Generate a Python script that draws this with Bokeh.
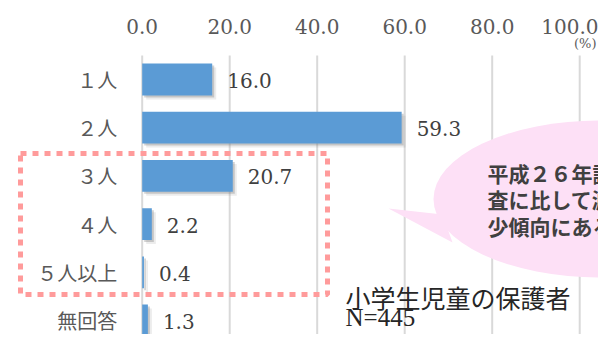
from bokeh.plotting import figure
from bokeh.models import Range1d, FixedTicker, ColumnDataSource
from bokeh.core.properties import value
from bokeh.embed import file_html
from bokeh.resources import INLINE

# ---- data ----
categories = ["１人", "２人", "３人", "４人", "５人以上", "無回答"]
values = [16.0, 59.3, 20.7, 2.2, 0.4, 1.3]
value_labels = ["16.0", "59.3", "20.7", "2.2", "0.4", "1.3"]
ticks = [0, 20, 40, 60, 80, 100]
tick_labels = ["0.0", "20.0", "40.0", "60.0", "80.0", "100.0"]
bubble_lines = ["平成２６年調", "査に比して減", "少傾向にある"]
note_title = "小学生児童の保護者"
note_n = "N=445"
unit_label = "(%)"

# ---- layout helpers (picture px -> data) ----
W, H = 598, 334
FRAME_TOP = 36
PX_X = 4.375            # px per percent
X0 = 141.7              # px of value 0
PX_Y = 48.2             # px per category row
ROW0 = 79               # px of first row center

x_start = -X0 / PX_X
x_end = (W - X0) / PX_X
y_top = -(ROW0 - FRAME_TOP) / PX_Y
y_bottom = y_top + (H - FRAME_TOP) / PX_Y


def dx(px):
    return (px - X0) / PX_X


def dy(py):
    return y_top + (py - FRAME_TOP) / PX_Y


ypos = list(range(len(categories)))

p = figure(width=W, height=H, output_backend="svg", toolbar_location=None,
           x_range=Range1d(x_start, x_end), y_range=Range1d(y_bottom, y_top),
           x_axis_location="above", y_axis_location=None,
           min_border_top=FRAME_TOP, min_border_bottom=0,
           min_border_left=0, min_border_right=0)
p.outline_line_color = None
p.background_fill_color = "white"
p.border_fill_color = "white"
p.xgrid.grid_line_color = None
p.ygrid.grid_line_color = None

ax = p.xaxis[0]
ax.ticker = FixedTicker(ticks=ticks)
ax.major_label_overrides = {t: l for t, l in zip(ticks, tick_labels)}
ax.axis_line_color = None
ax.major_tick_line_color = None
ax.minor_tick_line_color = None
ax.major_tick_out = 0
ax.major_tick_in = 0
ax.major_label_standoff = 3
ax.major_label_text_font = "DejaVu Serif"
ax.major_label_text_font_size = "20px"
ax.major_label_text_color = "#595959"

# gridlines
p.segment(x0=ticks, x1=ticks, y0=[-0.5] * len(ticks), y1=[y_bottom] * len(ticks),
          line_color="#D9D9D9", line_width=2)

# speech bubble
p.ellipse(x=[dx(600)], y=[dy(198.5)], width=334, height=157,
          width_units="screen", height_units="screen",
          fill_color="#FDE0F6", line_color=None)
p.patch(x=[dx(388), dx(442), dx(452)], y=[dy(208), dy(214), dy(242)],
        fill_color="#FDE0F6", line_color=None)
p.text(x=[dx(487)] * 3, y=[dy(172), dy(198.5), dy(225)], text=bubble_lines,
       text_font=value("Noto Sans CJK JP"), text_font_style="bold",
       text_font_size="21px", text_color="#404040",
       text_align="left", text_baseline="middle")

# bar shadows + bars
sx1, sy1 = 2 / PX_X, 2 / PX_Y
sx2, sy2 = 4 / PX_X, 4 / PX_Y
p.hbar(y=[y + sy2 for y in ypos], left=sx2, right=[v + sx2 for v in values],
       height=0.66, fill_color="#7F7F7F", fill_alpha=0.15, line_color=None)
p.hbar(y=[y + sy1 for y in ypos], left=sx1, right=[v + sx1 for v in values],
       height=0.66, fill_color="#7F7F7F", fill_alpha=0.35, line_color=None)
src = ColumnDataSource(dict(y=ypos, v=values, lab=value_labels, cat=categories,
                            zero=[0] * len(values)))
p.hbar(y="y", left=0, right="v", height=0.66, source=src,
       fill_color="#5B9BD5", line_color=None)

# value labels
p.text(x="v", y="y", text="lab", source=src, x_offset=15, y_offset=1,
       text_font=value("DejaVu Serif"), text_font_size="20px",
       text_color="#404040", text_align="left", text_baseline="middle")

# category labels
p.text(x="zero", y="y", text="cat", source=src, x_offset=-25,
       text_font=value("Noto Sans CJK JP"), text_font_size="20px",
       text_color="#595959", text_align="right", text_baseline="middle")

# dotted highlight box
p.quad(left=[dx(20)], right=[dx(327)], top=[dy(153)], bottom=[dy(294)],
       fill_color=None, line_color="#FF9B9B", line_width=5, line_dash="6 6")

# unit label
p.text(x=[dx(596)], y=[dy(43)], text=[unit_label],
       text_font=value("DejaVu Serif"), text_font_size="13px",
       text_color="#595959", text_align="right", text_baseline="middle")

# sample note (kept inside the drawable height)
p.text(x=[dx(345)], y=[dy(296)], text=[note_title],
       text_font=value("Noto Sans CJK JP"), text_font_size="25px",
       text_color="#262626", text_align="left", text_baseline="middle")
p.text(x=[dx(345)], y=[dy(317)], text=[note_n],
       text_font=value("Liberation Serif"), text_font_size="25px",
       text_color="#262626", text_align="left", text_baseline="middle")

open("out.html", "w").write(file_html(p, INLINE))
